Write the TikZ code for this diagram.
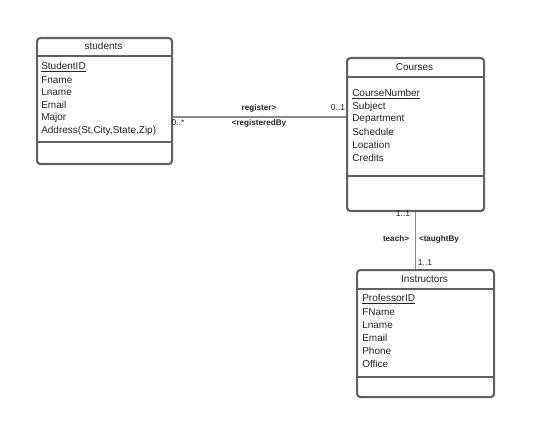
\documentclass[tikz,border=0pt]{standalone}
\usepackage{fontspec}
\setmainfont{Liberation Sans}
\begin{document}
\begin{tikzpicture}[x=0.75pt,y=-0.75pt,
  box/.style={draw=black!62,line width=1.6pt,rounded corners=2.5pt,inner sep=0pt,anchor=north west},
  divider/.style={draw=black!62,line width=1.6pt},
  title/.style={font=\fontsize{7.5}{9}\selectfont,text=black!85,inner sep=0pt},
  attr/.style={font=\fontsize{7.5}{9}\selectfont,text=black!85,inner sep=0pt,anchor=west},
  lbl/.style={font=\bfseries\fontsize{6.1}{7}\selectfont,text=black!85,inner sep=0pt},
  mult/.style={font=\fontsize{6.4}{7}\selectfont,text=black!85,inner sep=0pt},
  conn/.style={draw=black!45,line width=0.8pt}]
\useasboundingbox (0,0) rectangle (552,427);
% students
\node[box,minimum width=135*0.75pt,minimum height=126*0.75pt] (students) at (36,37) {};
\draw[divider] (36,56) -- (171,56);
\draw[divider] (36,142) -- (171,142);
\node[title] (st) at (103.5,46) {students};
\node[attr] (s1) at (41,67) {\underline{StudentID}};
\node[attr] (s2) at (41,80) {Fname};
\node[attr] (s3) at (41,92) {Lname};
\node[attr] (s4) at (41,105) {Email};
\node[attr] (s5) at (41,118) {Major};
\node[attr] (s6) at (41,131) {Address(St,City,State,Zip)};
% courses
\node[box,minimum width=137*0.75pt,minimum height=153*0.75pt] (courses) at (346,57) {};
\draw[divider] (346,77) -- (483,77);
\draw[divider] (346,176) -- (483,176);
\node[title] (ct) at (414.5,67) {Courses};
\node[attr] (c1) at (352,94) {\underline{CourseNumber}};
\node[attr] (c2) at (352,107) {Subject};
\node[attr] (c3) at (352,119) {Department};
\node[attr] (c4) at (352,132) {Schedule};
\node[attr] (c5) at (352,145) {Location};
\node[attr] (c6) at (352,158) {Credits};
% instructors
\node[box,minimum width=137*0.75pt,minimum height=127*0.75pt] (instr) at (356,269) {};
\draw[divider] (356,289) -- (493,289);
\draw[divider] (356,377) -- (493,377);
\node[title] (it) at (424.5,279) {Instructors};
\node[attr] (i1) at (362,299) {\underline{ProfessorID}};
\node[attr] (i2) at (362,312) {FName};
\node[attr] (i3) at (362,325) {Lname};
\node[attr] (i4) at (362,338) {Email};
\node[attr] (i5) at (362,351) {Phone};
\node[attr] (i6) at (362,364) {Office};
% connectors
\coordinate (regy) at (0,117);
\draw[conn] (students.east |- regy) -- (courses.west |- regy);
\draw[conn] (courses.south) -- (courses.south |- instr.north);
% labels
\node[lbl] (l1) at (259,108) {register>};
\node[lbl] (l2) at (259,123) {<registeredBy};
\node[mult] (m1) at (338,108) {0..1};
\node[mult] (m2) at (178,123) {0..*};
\node[mult] (m3) at (403,214) {1..1};
\node[mult] (m4) at (425,263) {1..1};
\node[lbl] (l3) at (396,239) {teach>};
\node[lbl] (l4) at (439,239) {<taughtBy};
\end{tikzpicture}
\end{document}
